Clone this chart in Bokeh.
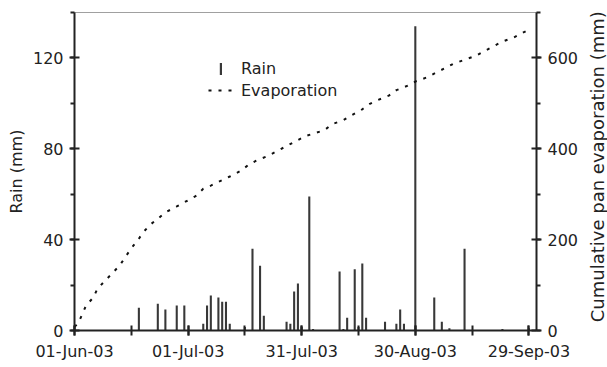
import pandas as pd
from math import pi
from bokeh.plotting import figure
from bokeh.layouts import row
from bokeh.models import (Range1d, LinearAxis, FixedTicker, DatetimeTickFormatter,
                          Legend, LegendItem, ColumnDataSource, Label)
from bokeh.embed import file_html
from bokeh.resources import INLINE

# ---------------- data ----------------
season_start = "2003-06-01"
season_end = "2003-10-01"

# rain events: day offset from 01-Jun-03, amount (mm)
rain_day = [17, 22, 24, 27, 29, 34, 35, 36, 38, 39, 40, 41, 45, 47, 49, 50, 56, 57,
            58, 59, 60, 62, 63, 70, 71, 72, 74, 75, 76, 77, 82, 85, 86, 87, 90, 95,
            97, 99, 103, 113, 120]
rain_mm = [10, 11.8, 9.2, 11, 11, 3, 11, 15.4, 14.5, 12.7, 12.7, 3, 1.5, 36, 28.5, 6.5, 3.9, 3,
           17.2, 20.7, 1.5, 59, 0.7, 26, 0.7, 5.6, 27, 1.5, 29.5, 5.6, 3.9, 3, 9.2, 3, 134, 14.5,
           3.9, 1, 36, 0.7, 1]

# cumulative pan evaporation: day offset, mm
evap_day = [0, 1, 2, 3, 5, 6, 8, 10, 12, 15, 17, 18, 20, 22, 24, 27, 32, 34, 36, 41, 44, 46,
            48, 51, 56, 61, 66, 68, 71, 73, 76, 78, 80, 83, 85, 88, 90, 93, 96, 98, 100, 103,
            106, 108, 113, 116, 118, 120]
evap_mm = [8, 16, 35, 54, 73, 91, 109, 126, 144, 181, 202, 215, 233, 246, 260, 273, 296, 312,
           319, 339, 352, 365, 374, 384, 406, 428, 441, 454, 463, 473, 487, 499, 507, 517, 529,
           539, 548, 557, 570, 578, 587, 596, 605, 614, 636, 645, 654, 662]

x_major_dates = ["2003-06-01", "2003-07-01", "2003-07-31", "2003-08-30", "2003-09-29"]
x_minor_dates = ["2003-06-01", "2003-06-16", "2003-07-01", "2003-07-16", "2003-07-31",
                 "2003-08-15", "2003-08-30", "2003-09-14", "2003-09-29"]
rain_ticks = [0, 40, 80, 120]
rain_minor = [0, 20, 40, 60, 80, 100, 120, 140]
evap_ticks = [0, 200, 400, 600]
evap_minor = [0, 100, 200, 300, 400, 500, 600, 700]

left_title = "Rain (mm)"
right_title = "Cumulative pan evaporation (mm)"

# ---------------- build ----------------
t0 = pd.Timestamp(season_start)
rain_src = ColumnDataSource(dict(
    date=[t0 + pd.Timedelta(days=d) for d in rain_day], mm=rain_mm))
evap_src = ColumnDataSource(dict(
    date=[t0 + pd.Timedelta(days=d) for d in evap_day], mm=evap_mm))


def ms(s):
    return pd.Timestamp(s).timestamp() * 1000.0


FONT = "DejaVu Sans"
INK = "#222222"
BAR = "#383838"
DAY_MS = 86400000.0

p = figure(width=586, height=367, x_axis_type="datetime",
           x_range=Range1d(pd.Timestamp(season_start), pd.Timestamp(season_end)),
           y_range=Range1d(0, 140),
           output_backend="svg", toolbar_location=None)
p.min_border_left = 74
p.min_border_right = 50
p.min_border_top = 12
p.min_border_bottom = 37
p.xgrid.visible = False
p.ygrid.visible = False
p.outline_line_color = "#a0a0a0"
p.outline_line_width = 1
p.background_fill_color = "white"
p.border_fill_color = "white"

p.extra_y_ranges = {"evap": Range1d(0, 700)}

rain_r = p.vbar(x="date", top="mm", bottom=0, width=0.55 * DAY_MS, source=rain_src,
                fill_color=BAR, line_color=None)
evap_r = p.line(x="date", y="mm", source=evap_src, y_range_name="evap",
                line_width=2, line_color="#111111", line_dash="3 7")

# x axis
xa = p.xaxis[0]
xa.ticker = FixedTicker(ticks=[ms(d) for d in x_major_dates],
                        minor_ticks=[ms(d) for d in x_minor_dates])
fmt = "%d-%b-%y"
xa.formatter = DatetimeTickFormatter(days=fmt, months=fmt, years=fmt, hours=fmt,
                                     minutes=fmt, seconds=fmt, milliseconds=fmt,
                                     microseconds=fmt, hourmin=fmt, minsec=fmt)

# left axis
ya = p.yaxis[0]
ya.ticker = FixedTicker(ticks=rain_ticks, minor_ticks=rain_minor)
ya.axis_label = left_title

# right axis (its title is drawn in a narrow strip beside, reading upward)
ra = LinearAxis(y_range_name="evap")
ra.ticker = FixedTicker(ticks=evap_ticks, minor_ticks=evap_minor)
p.add_layout(ra, "right")

for ax in (xa, ya, ra):
    ax.axis_line_width = 2
    ax.axis_line_color = INK
    ax.major_tick_line_color = INK
    ax.minor_tick_line_color = INK
    ax.major_tick_line_width = 2
    ax.minor_tick_line_width = 2
    ax.major_tick_in = 5
    ax.major_tick_out = 5
    ax.minor_tick_in = 0
    ax.minor_tick_out = 4
    ax.major_label_text_font = FONT
    ax.major_label_text_font_size = "16px"
    ax.major_label_text_color = INK
    ax.axis_label_text_font = FONT
    ax.axis_label_text_font_size = "16px"
    ax.axis_label_text_font_style = "normal"
    ax.axis_label_text_color = INK
    ax.major_label_standoff = 6
    ax.axis_label_standoff = 4

xa.minor_tick_in = 5
xa.minor_tick_out = 5

common = dict(padding=0, margin=0, spacing=0, border_line_alpha=0,
              background_fill_alpha=0, label_text_font=FONT,
              label_text_font_size="16px", label_text_color=INK)

# legend key for rain: a narrow bar
rain_legend = Legend(items=[LegendItem(label="Rain", renderers=[rain_r])],
                     location=(145, 252), glyph_width=3, glyph_height=15,
                     label_standoff=19, **common)
evap_legend = Legend(items=[LegendItem(label="Evaporation", renderers=[evap_r])],
                     location=(134, 230), glyph_width=25, glyph_height=20,
                     label_standoff=8, **common)
p.add_layout(rain_legend)
p.add_layout(evap_legend)

# narrow strip holding the right-hand axis title
q = figure(width=21, height=367, x_range=Range1d(0, 1), y_range=Range1d(0, 1),
           x_axis_location=None, y_axis_location=None,
           output_backend="svg", toolbar_location=None)
q.min_border = 0
q.min_border_left = 0
q.min_border_right = 0
q.min_border_top = 0
q.min_border_bottom = 0
q.xgrid.visible = False
q.ygrid.visible = False
q.outline_line_color = None
q.background_fill_color = "white"
q.border_fill_color = "white"
q.add_layout(Label(x=0.5, y=0.515, text=right_title, angle=pi / 2,
                   text_align="center", text_baseline="middle",
                   text_font=FONT, text_font_size="18px", text_color=INK))

layout = row(p, q)
open("out.html", "w").write(file_html(layout, INLINE))
